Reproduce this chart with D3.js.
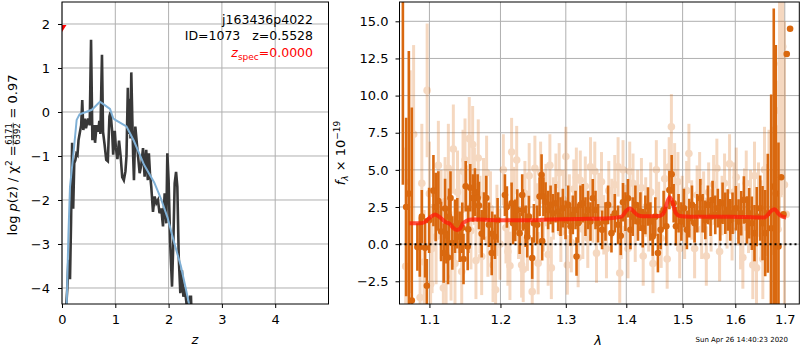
<!DOCTYPE html>
<html>
<head>
<meta charset="utf-8">
<script src="https://cdn.jsdelivr.net/npm/d3@7"></script>
<style>
body { margin: 0; background: #fff; }
svg { display: block; font-family: "DejaVu Sans", sans-serif; }
</style>
</head>
<body>
<div id="chart"></div>
<script>
// ---- left panel: log p(z)
const zDark = [0.07,0.10,0.12,0.14,0.15,0.17,0.19,0.20,0.21,0.23,0.25,0.27,0.29,0.31,0.33,0.36,0.38,0.40,0.43,0.45,0.49,0.52,0.545,0.57,0.60,0.62,0.65,0.68,0.70,0.72,0.75,0.77,0.80,0.83,0.86,0.89,0.91,0.94,0.96,0.99,1.01,1.04,1.07,1.10,1.13,1.16,1.19,1.21,1.235,1.25,1.27,1.285,1.30,1.32,1.335,1.35,1.376,1.41,1.457,1.488,1.52,1.55,1.58,1.61,1.63,1.65,1.675,1.707,1.738,1.77,1.80,1.83,1.863,1.895,1.926,1.957,1.976,2.0,2.03,2.064,2.09,2.114,2.14,2.164,2.19,2.22,2.25,2.277,2.30,2.35,2.40,2.42,2.43];
const lpDark = [-4.6,-4.0,-3.36,-3.5,-3.8,-2.5,-0.7,-1.5,-2.2,-1.16,-1.1,-0.95,-0.98,-0.64,-0.5,-0.3,0.27,-0.41,-0.15,-0.37,-0.15,-0.3,1.64,-0.64,-0.3,-0.7,-0.3,-0.45,-0.2,-0.5,1.3,-0.45,-0.75,-1.09,-1.12,-0.1,0.0,-0.43,-0.97,-0.43,-0.8,-1.07,-0.65,-1.0,-1.48,-1.55,-1.35,-1.0,0.55,-0.5,0.3,-0.6,0.9,-0.2,-1.0,-1.55,-0.33,-0.79,-1.39,-1.2,-0.82,-1.47,-0.86,-1.55,-0.94,-1.39,-1.7,-2.27,-1.92,-2.07,-2.0,-2.3,-2.19,-2.6,-1.85,-2.53,-0.94,-1.55,-2.99,-3.97,-2.9,-1.62,-1.36,-1.7,-3.29,-4.12,-3.6,-4.2,-3.97,-4.5,-4.2,-4.2,-4.6];
const zBlue = [0.088,0.12,0.15,0.21,0.275,0.33,0.45,0.56,0.71,0.75,0.9,0.96,1.0,1.21,1.35,1.54,1.73,1.85,1.98,2.1,2.23,2.32,2.39];
const lpBlue = [-4.4,-2.8,-1.7,-1.0,-0.18,-0.05,0.0,0.05,0.23,0.2,0.07,-0.14,-0.18,-0.33,-0.66,-1.2,-1.6,-1.95,-2.4,-2.95,-3.5,-4.0,-4.4];
const zSpec = [0.0];
const zSpecY = [1.9];
const zTicks = [0, 1, 2, 3, 4];
const lpTicks = [-4, -3, -2, -1, 0, 1, 2];

// ---- right panel: spectrum
const lamDark = [1.0648,1.0691,1.0726,1.0765,1.0839,1.0871,1.0898,1.0942,1.0965,1.0996,1.1054,1.1085,1.1121,1.1158,1.1194,1.1213,1.1231,1.1254,1.1267,1.1288,1.1313,1.1350,1.1382,1.1415,1.1452,1.1469,1.1500,1.1528,1.1536,1.1564,1.1602,1.1631,1.1669,1.1688,1.1727,1.1760,1.1793,1.1832,1.1872,1.1880,1.1919,1.1958,1.2066,1.2095,1.2165,1.2187,1.2219,1.2250,1.2285,1.2324,1.2334,1.2376,1.2400,1.2425,1.2476,1.2502,1.2552,1.2589,1.2620,1.2629,1.2649,1.2682,1.2722,1.2760,1.2796,1.2838,1.2879,1.2917,1.2953,1.2996,1.3037,1.3075,1.3112,1.3156,1.3172,1.3198,1.3236,1.3274,1.3317,1.3360,1.3399,1.3437,1.3482,1.3524,1.3591,1.3648,1.3691,1.3748,1.3804,1.3860,1.3905,1.3944,1.3985,1.4029,1.4071,1.4111,1.4157,1.4202,1.4244,1.4284,1.4331,1.4377,1.4419,1.4460,1.4507,1.4553,1.4602,1.4655,1.4704,1.4759,1.4800,1.4836,1.4878,1.4926,1.4977,1.5024,1.5079,1.5123,1.5173,1.5222,1.5272,1.5329,1.5372,1.5423,1.5472,1.5523,1.5561,1.5612,1.5662,1.5708,1.5753,1.5805,1.5855,1.5902,1.5946,1.6011,1.6064,1.6117,1.6169,1.6228,1.6275,1.6327,1.6381,1.6427,1.6496,1.6543,1.6597,1.6650,1.6719,1.6772,1.6814,1.6869,1.6925,1.6972,1.7041,1.7111];
const fDark = [18.0,2.5,3.4,-3.8,-0.2,-0.2,1.85,-0.25,-2.8,1.6,3.6,2.5,2.9,0.85,-0.6,2.4,0.6,-0.9,1.85,3.1,0.07,1.2,1.4,0.5,1.1,-1.0,3.9,-0.16,1.0,3.8,3.1,3.5,3.1,2.6,0.7,1.9,3.1,1.3,-0.6,0.7,0.5,1.6,3.3,2.5,2.75,1.4,1.6,2.3,0.74,3.3,2.3,1.2,0.5,1.85,-0.94,1.4,1.3,3.2,4.65,0.2,3.2,2.86,2.3,2.64,2.08,2.75,2.19,1.85,2.42,1.63,2.64,1.2,1.97,2.3,-0.83,1.4,2.64,2.75,1.85,2.3,1.52,3.09,2.3,1.41,0.96,1.52,2.64,0.74,2.08,1.3,0.56,2.82,2.19,3.09,0.96,1.85,2.64,1.52,2.19,1.07,1.97,2.53,1.52,0.51,1.85,-0.6,0.96,2.3,1.2,3.64,4.7,2.75,1.2,2.08,1.52,2.42,0.96,1.75,2.64,1.41,2.08,3.09,2.08,1.63,2.64,1.85,2.97,1.97,2.42,1.63,2.75,2.08,2.3,1.63,2.08,2.42,1.52,2.08,2.97,1.63,2.08,1.41,0.74,1.85,2.42,1.41,0.74,2.08,1.07,3.87,3.4,-0.16,4.5,2.0,12.8,14.5];
const eDark = [14.0,6.0,9.6,13.0,1.6,2.0,1.8,2.0,1.8,2.2,2.4,2.3,2.0,2.0,2.0,2.0,1.9,1.8,1.9,1.8,1.8,1.8,1.7,1.7,1.7,1.7,1.7,1.6,1.6,1.6,1.6,1.6,1.6,1.6,1.6,1.6,1.5,1.5,1.5,1.5,1.5,1.5,1.4,1.4,1.4,1.4,1.4,1.4,1.4,1.4,1.4,1.4,1.4,1.4,1.4,1.3,1.3,1.3,1.4,1.3,1.3,1.3,1.3,1.3,1.3,1.3,1.3,1.3,1.3,1.3,1.3,1.3,1.3,1.3,1.3,1.3,1.3,1.3,1.3,1.3,1.3,1.3,1.3,1.3,1.3,1.3,1.3,1.3,1.3,1.3,1.3,1.3,1.3,1.3,1.3,1.3,1.3,1.3,1.3,1.3,1.3,1.3,1.3,1.3,1.3,1.3,1.3,1.3,1.3,1.3,1.3,1.3,1.3,1.3,1.3,1.3,1.3,1.3,1.3,1.3,1.3,1.3,1.3,1.3,1.3,1.3,1.3,1.3,1.3,1.4,1.4,1.4,1.4,1.4,1.4,1.5,1.5,1.5,1.6,1.6,1.7,1.8,1.9,2.0,2.2,2.5,2.9,4.0,9.0,12.0,10.0,7.0];
const lamLight = [1.0685,1.0743,1.0789,1.0875,1.0898,1.0928,1.0969,1.1000,1.1016,1.1036,1.1090,1.1121,1.1158,1.1189,1.1213,1.1227,1.1258,1.1295,1.1327,1.1350,1.1385,1.1406,1.1444,1.1462,1.1490,1.1518,1.1550,1.1574,1.1598,1.1623,1.1645,1.1678,1.1703,1.1727,1.1753,1.1798,1.1817,1.1854,1.1891,1.1929,1.1948,1.1993,1.2042,1.2081,1.2110,1.2140,1.2165,1.2199,1.2241,1.2268,1.2315,1.2339,1.2365,1.2403,1.2430,1.2476,1.2517,1.2540,1.2567,1.2605,1.2648,1.2687,1.2722,1.2749,1.2772,1.2804,1.2843,1.2895,1.2922,1.2961,1.3001,1.3025,1.3057,1.3088,1.3128,1.3169,1.3198,1.3233,1.3274,1.3314,1.3355,1.3399,1.3437,1.3470,1.3498,1.3536,1.3581,1.3619,1.3664,1.3703,1.3753,1.3804,1.3860,1.3888,1.3914,1.3944,1.3982,1.4029,1.4059,1.4116,1.4154,1.4197,1.4262,1.4293,1.4337,1.4389,1.4425,1.4465,1.4525,1.4566,1.4611,1.4674,1.4719,1.4755,1.4795,1.4854,1.4914,1.4946,1.4992,1.5037,1.5074,1.5116,1.5167,1.5222,1.5269,1.5316,1.5354,1.5391,1.5442,1.5486,1.5533,1.5580,1.5643,1.5695,1.5743,1.5791,1.5839,1.5888,1.5937,1.5975,1.6019,1.6064,1.6104,1.6149,1.6182,1.6216,1.6261,1.6301,1.6347,1.6381,1.6421,1.6461,1.6512,1.6549,1.6583,1.6634,1.6674,1.6704,1.6745,1.6787,1.6818,1.6859,1.6890,1.6925,1.6958,1.6993,1.7028];
const fLight = [-1.5,4.2,7.4,-3.6,4.1,-1.2,10.35,3.4,-2.7,-0.3,0.5,5.3,2.0,-2.95,2.86,-2.2,5.1,-0.8,6.4,-1.3,3.5,2.2,-1.84,4.9,5.66,2.5,7.1,0.9,6.7,3.9,-1.1,5.8,2.0,-0.83,3.3,4.8,0.3,2.4,-1.4,-3.07,1.6,0.0,5.0,1.1,-0.5,-1.46,6.2,2.9,5.66,1.2,-1.4,-1.7,3.4,0.4,4.6,-3.2,5.1,2.0,-1.28,4.8,1.6,3.3,-0.7,5.3,-1.6,2.4,4.0,4.8,0.8,3.0,5.9,-1.4,2.7,0.1,3.7,4.5,-0.9,4.3,1.0,3.9,0.4,5.2,2.1,4.9,-0.6,2.8,4.2,1.3,-0.3,3.6,2.4,4.0,5.2,-1.95,1.0,5.0,2.0,-0.3,4.9,4.1,0.8,3.0,3.8,-0.8,2.5,1.5,3.5,-1.3,5.0,2.2,0.4,4.4,-1.0,5.2,7.9,4.8,4.2,-0.3,2.6,1.0,3.6,6.1,2.3,-0.3,3.3,4.2,1.0,2.9,-0.8,3.5,1.5,4.0,5.1,-0.5,2.6,4.1,1.7,5.4,0.9,3.5,4.5,2.0,0.4,-0.9,3.0,4.1,1.6,2.8,-1.4,4.6,-1.6,3.0,1.7,-1.0,5.0,2.3,4.3,-0.5,3.6,2.4,5.0,1.0,9.0,12.15,13.3,4.0,2.0];
const eLight = [8.0,7.5,6.0,4.0,4.0,3.5,4.5,3.5,3.5,3.0,3.2,3.0,3.0,3.0,3.0,3.0,3.0,3.0,3.0,3.0,2.8,2.8,2.8,2.8,2.8,2.8,2.8,2.6,2.6,2.6,2.6,2.6,2.6,2.6,2.5,2.5,2.5,2.5,2.5,2.5,2.4,2.4,2.4,2.4,2.3,2.3,2.3,2.3,2.3,2.2,2.2,2.2,2.2,2.2,2.2,2.2,2.2,2.1,2.1,2.1,2.1,2.1,2.1,2.1,2.1,2.1,2.1,2.0,2.0,2.0,2.0,2.0,2.0,2.0,2.0,2.0,2.0,2.0,2.0,2.0,2.0,2.0,2.0,2.0,2.0,2.0,2.0,2.0,2.0,2.0,2.0,2.0,2.0,2.0,2.0,2.0,2.0,2.0,2.0,2.0,2.0,2.0,2.0,2.0,2.0,2.0,2.0,2.0,2.0,2.0,2.0,2.0,2.0,2.0,2.2,2.0,2.0,2.0,2.0,2.0,2.0,2.0,2.0,2.0,2.0,2.0,2.0,2.0,2.0,2.0,2.0,2.0,2.0,2.0,2.0,2.0,2.0,2.0,2.0,2.0,2.0,2.1,2.1,2.1,2.1,2.2,2.2,2.2,2.3,2.3,2.4,2.5,2.6,2.7,2.9,3.1,3.4,3.8,4.3,5.0,6.0,7.0,8.0,9.0,10.0,11.0];
const lamModel = [1.0734,1.0875,1.0942,1.1009,1.1076,1.1144,1.1213,1.1281,1.1323,1.1374,1.1420,1.1462,1.1518,1.1588,1.1703,1.1993,1.2289,1.2749,1.3225,1.3719,1.3922,1.3990,1.4059,1.4128,1.4197,1.4284,1.4584,1.4656,1.4710,1.4764,1.4818,1.4873,1.4946,1.5130,1.5888,1.6583,1.6644,1.6704,1.6787,1.6869,1.6952,1.7028];
const fModel = [1.4,1.4,1.5,1.8,2.0,1.8,1.5,1.35,1.1,0.95,1.05,1.4,1.58,1.65,1.65,1.6,1.6,1.65,1.7,1.75,1.85,2.2,2.4,2.2,1.95,1.88,1.9,2.1,2.7,3.15,2.8,2.1,1.9,1.85,1.85,1.8,1.95,2.2,2.35,2.05,1.85,1.8];
const lamTicks = [1.1, 1.2, 1.3, 1.4, 1.5, 1.6, 1.7];
const fTicks = [-2.5, 0, 2.5, 5, 7.5, 10, 12.5, 15];

const width = 800;
const height = 350;
const orange = "#d9680f";

const svg = d3.select("#chart").append("svg")
  .attr("width", width)
  .attr("height", height);
svg.append("rect").attr("width", width).attr("height", height).attr("fill", "#fff");

const x1 = d3.scaleLinear().domain([0, 5]).range([62, 328.5]);
const y1 = d3.scaleLinear().domain([-4.364, 2.5]).range([304, 2]);
const x2 = d3.scaleLog().domain([1.0604, 1.7305]).range([399.5, 799.3]);
const y2 = d3.scaleLinear().domain([-4.03, 16.3]).range([304, 2]);

function clip(id, x, y) {
  svg.append("clipPath").attr("id", id).append("rect")
    .attr("x", x.range()[0]).attr("y", y.range()[1])
    .attr("width", x.range()[1] - x.range()[0])
    .attr("height", y.range()[0] - y.range()[1]);
}
clip("c1", x1, y1);
clip("c2", x2, y2);

function grid(x, y, xt, yt) {
  const g = svg.append("g").attr("stroke", "#b0b0b0").attr("stroke-width", 1);
  g.selectAll(".gx").data(xt).join("line")
    .attr("x1", d => x(d)).attr("x2", d => x(d))
    .attr("y1", y.range()[0]).attr("y2", y.range()[1]);
  g.selectAll(".gy").data(yt).join("line")
    .attr("x1", x.range()[0]).attr("x2", x.range()[1])
    .attr("y1", d => y(d)).attr("y2", d => y(d));
}
grid(x1, y1, zTicks, lpTicks);
grid(x2, y2, lamTicks, fTicks);

// left panel curves
const p1 = svg.append("g").attr("clip-path", "url(#c1)");
const line1 = d3.line().x(d => x1(d[0])).y(d => y1(d[1]));
p1.append("path")
  .datum(zDark.map((z, i) => [z, lpDark[i]]))
  .attr("d", line1).attr("fill", "none")
  .attr("stroke", "#383838").attr("stroke-width", 2.6);
p1.append("path")
  .datum(zBlue.map((z, i) => [z, lpBlue[i]]))
  .attr("d", line1).attr("fill", "none")
  .attr("stroke", "#7fb0d6").attr("stroke-width", 2);
p1.selectAll(".zs").data(zSpec).join("path")
  .attr("transform", (d, i) => `translate(${x1(d)},${y1(zSpecY[i])})`)
  .attr("d", "M-4.5,-3.5L4.5,-3.5L0,3.5Z")
  .attr("fill", "red");

// right panel spectrum
const p2 = svg.append("g").attr("clip-path", "url(#c2)");
const light = p2.append("g").attr("opacity", 0.26);
light.selectAll("line").data(lamLight).join("line")
  .attr("x1", d => x2(d)).attr("x2", d => x2(d))
  .attr("y1", (d, i) => y2(fLight[i] - eLight[i]))
  .attr("y2", (d, i) => y2(fLight[i] + eLight[i]))
  .attr("stroke", orange).attr("stroke-width", 3);
light.selectAll("circle").data(lamLight).join("circle")
  .attr("cx", d => x2(d)).attr("cy", (d, i) => y2(fLight[i]))
  .attr("r", 3.8).attr("fill", orange);

const dark = p2.append("g");
dark.selectAll("line").data(lamDark).join("line")
  .attr("x1", d => x2(d)).attr("x2", d => x2(d))
  .attr("y1", (d, i) => y2(fDark[i] - eDark[i]))
  .attr("y2", (d, i) => y2(fDark[i] + eDark[i]))
  .attr("stroke", orange).attr("stroke-width", 2.6);
dark.selectAll("circle").data(lamDark).join("circle")
  .attr("cx", d => x2(d)).attr("cy", (d, i) => y2(fDark[i]))
  .attr("r", 3.3).attr("fill", orange);

p2.append("path")
  .datum(lamModel.map((l, i) => [l, fModel[i]]))
  .attr("d", d3.line().curve(d3.curveMonotoneX).x(d => x2(d[0])).y(d => y2(d[1])))
  .attr("fill", "none").attr("stroke", "#ff1a0a")
  .attr("stroke-width", 4).attr("opacity", 0.75);

p2.append("line")
  .attr("x1", x2.range()[0]).attr("x2", x2.range()[1])
  .attr("y1", y2(0)).attr("y2", y2(0))
  .attr("stroke", "#000").attr("stroke-width", 2)
  .attr("stroke-dasharray", "2,3");

// axes
function styleAxis(g) {
  g.select(".domain").remove();
  g.attr("font-size", 13).attr("font-family", "DejaVu Sans");
  g.selectAll(".tick line").attr("stroke", "#000");
  g.selectAll(".tick text").attr("fill", "#000");
}
svg.append("g").attr("transform", "translate(0,304)")
  .call(d3.axisBottom(x1).tickValues(zTicks).tickFormat(d3.format("d")).tickSize(4).tickPadding(7))
  .call(styleAxis);
svg.append("g").attr("transform", "translate(62,0)")
  .call(d3.axisLeft(y1).tickValues(lpTicks).tickFormat(d3.format("d")).tickSize(4).tickPadding(8))
  .call(styleAxis);
svg.append("g").attr("transform", "translate(0,304)")
  .call(d3.axisBottom(x2).tickValues(lamTicks).tickFormat(d3.format(".1f")).tickSize(4).tickPadding(7))
  .call(styleAxis);
svg.append("g").attr("transform", "translate(399.5,0)")
  .call(d3.axisLeft(y2).tickValues(fTicks).tickFormat(d3.format(".1f")).tickSize(4).tickPadding(7))
  .call(styleAxis);

// frames
[[x1, y1], [x2, y2]].forEach(([x, y]) => {
  svg.append("rect")
    .attr("x", x.range()[0]).attr("y", y.range()[1])
    .attr("width", x.range()[1] - x.range()[0])
    .attr("height", y.range()[0] - y.range()[1])
    .attr("fill", "none").attr("stroke", "#000").attr("stroke-width", 1);
});

// annotation text, left panel
svg.append("text").attr("x", 313).attr("y", 24).attr("text-anchor", "end")
  .attr("font-size", 12.5).text("j163436p4022");
svg.append("text").attr("x", 313).attr("y", 39.5).attr("text-anchor", "end")
  .attr("font-size", 12.5).style("white-space", "pre").text("ID=1073   z=0.5528");
const zs = svg.append("text").attr("x", 313).attr("y", 57).attr("text-anchor", "end")
  .attr("font-size", 12.5).attr("fill", "red");
zs.append("tspan").attr("font-style", "italic").text("z");
zs.append("tspan").attr("font-size", 9).attr("dy", 3).text("spec");
zs.append("tspan").attr("dy", -3).text("=0.0000");

// axis labels
svg.append("text").attr("x", 195).attr("y", 344).attr("text-anchor", "middle")
  .attr("font-size", 13).attr("font-style", "italic").text("z");
svg.append("text").attr("x", 598).attr("y", 345).attr("text-anchor", "middle")
  .attr("font-size", 13).attr("font-style", "italic").text("λ");

const fl = svg.append("text").attr("transform", "translate(345,153) rotate(-90)")
  .attr("text-anchor", "middle").attr("font-size", 13);
fl.append("tspan").attr("font-style", "italic").text("f");
fl.append("tspan").attr("font-size", 9).attr("font-style", "italic").attr("dy", 3).text("λ");
fl.append("tspan").attr("dy", -3).text(" × 10");
fl.append("tspan").attr("font-size", 9).attr("dy", -5).text("−19");

// rotated p(z) label with stacked fraction
const lab = svg.append("g").attr("transform", "translate(17,155) rotate(-90)");
const inner = lab.append("g");
const t1 = inner.append("text").attr("font-size", 13);
t1.append("tspan").text("log ");
t1.append("tspan").attr("font-style", "italic").text("p");
t1.append("tspan").text("(z) / χ");
t1.append("tspan").attr("font-size", 9).attr("dy", -5).text("2");
t1.append("tspan").attr("dy", 5).text(" = ");
const w1 = t1.node().getComputedTextLength();
const num = inner.append("text").attr("font-size", 8.5).attr("text-anchor", "middle").attr("y", -5.5).text("6171");
const den = inner.append("text").attr("font-size", 8.5).attr("text-anchor", "middle").attr("y", 3).text("6392");
const fw = Math.max(num.node().getComputedTextLength(), den.node().getComputedTextLength()) + 1;
num.attr("x", w1 + fw / 2);
den.attr("x", w1 + fw / 2);
inner.append("line").attr("x1", w1).attr("x2", w1 + fw).attr("y1", -3.8).attr("y2", -3.8)
  .attr("stroke", "#000").attr("stroke-width", 0.6);
const t3 = inner.append("text").attr("font-size", 13).attr("x", w1 + fw).style("white-space", "pre").text(" = 0.97");
const total = w1 + fw + t3.node().getComputedTextLength();
inner.attr("transform", `translate(${-total / 2},0)`);

// timestamp
svg.append("text").attr("x", 788).attr("y", 342).attr("text-anchor", "end")
  .attr("font-size", 7).text("Sun Apr 26 14:40:23 2020");
</script>
</body>
</html>
